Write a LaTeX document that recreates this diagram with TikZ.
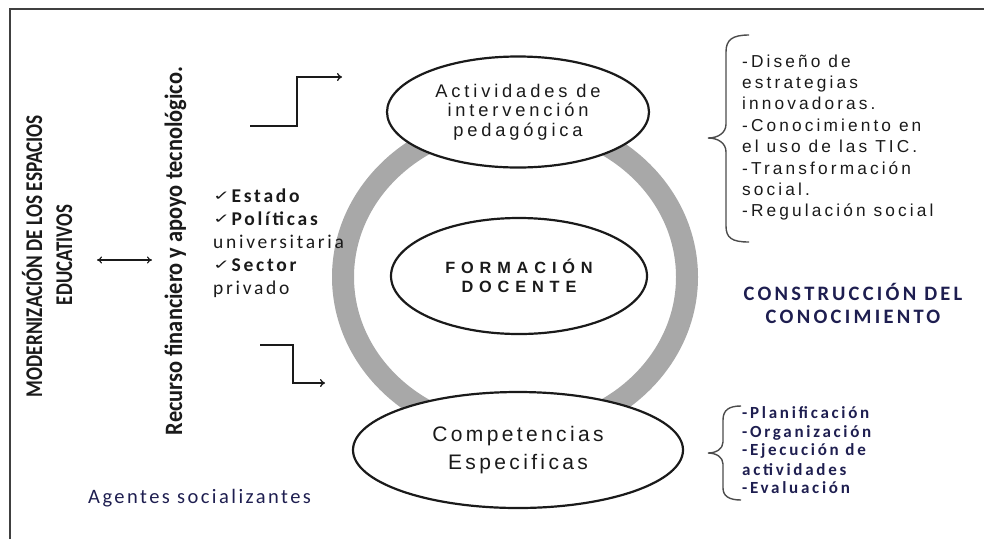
\documentclass[tikz,border=0pt]{standalone}
\usepackage{fontspec}
\usepackage{graphicx}
\usetikzlibrary{shapes.geometric,arrows.meta}
\newfontfamily\arialL[LetterSpace=18]{Liberation Sans}
\newfontfamily\arialE[LetterSpace=21]{Liberation Sans}
\newfontfamily\arialF[LetterSpace=36]{Liberation Sans}
\newfontfamily\arialC[LetterSpace=16]{Liberation Sans}
\newfontfamily\calCons[LetterSpace=16]{Carlito}
\newfontfamily\calChk[LetterSpace=14]{Carlito}
\newfontfamily\calAg[LetterSpace=12]{Carlito}
\newfontfamily\calPl[LetterSpace=16]{Carlito}
\newfontfamily\calRot{Carlito}
\newfontfamily\chkfont{DejaVu Sans}
\definecolor{ink}{HTML}{1A1A1A}
\definecolor{navy}{HTML}{1E1E50}
\definecolor{ringgray}{HTML}{A8A8A8}
\definecolor{framegray}{HTML}{404040}
\newcommand{\ck}{\raisebox{2pt}{\scalebox{1.35}[0.9]{\chkfont\fontsize{15}{15}\selectfont ✓}}\hspace{1.5pt}}
\begin{document}
\begin{tikzpicture}[x=1pt,y=-1pt,
  listA/.style={anchor=base west, inner sep=0, font=\arialL\fontsize{17.3}{20}\selectfont, text=ink},
  listB/.style={anchor=base west, inner sep=0, font=\calPl\bfseries\fontsize{17}{18}\selectfont, text=navy},
  chkline/.style={anchor=base west, inner sep=0, font=\calChk\fontsize{19.5}{20}\selectfont, text=ink},
  consline/.style={anchor=base, inner sep=0, font=\calCons\bfseries\fontsize{20.5}{22}\selectfont, text=navy},
  rotline/.style={anchor=base, inner sep=0, rotate=90, font=\calRot\bfseries, text=ink},
  oval/.style={ellipse, draw=ink, line width=2.2pt, fill=white, inner sep=0, align=center, text=ink},
  steparrow/.style={line width=1.3pt, draw=ink, -{To[length=5pt,width=8pt]}},
  bracestyle/.style={line width=1.4pt, draw=black!70},
]
\useasboundingbox (0,0) rectangle (984,539);
% frame
\draw[line width=1.8pt, framegray] (10,539) -- (10,9) -- (984,9);

% gray ring
\draw[line width=22pt, ringgray] (515,277) ellipse [x radius=172pt, y radius=156pt];

% ovals
\node[oval, minimum width=262pt, minimum height=111pt,
      font=\arialE\fontsize{18.3}{19.5}\selectfont] (act) at (518,112)
  {Actividades de\\intervención\\pedagógica};
\node[oval, minimum width=256pt, minimum height=116pt,
      font=\arialF\bfseries\fontsize{16.3}{19}\selectfont] (form) at (519,276)
  {FORMACIÓN\\DOCENTE};
\node[oval, minimum width=330pt, minimum height=116pt,
      font=\arialC\fontsize{21}{28}\selectfont] (comp) at (518,450)
  {Competencias\\Especificas};

% rotated texts on the left
\node[rotline, font=\calRot\bfseries\fontsize{24}{25}\selectfont] (mod) at (42,256)
  {\resizebox{282pt}{\height}{MODERNIZACIÓN DE LOS ESPACIOS}};
\node[rotline, font=\calRot\bfseries\fontsize{24}{25}\selectfont] (edu) at (72,255)
  {\resizebox{100pt}{\height}{EDUCATIVOS}};
\node[rotline, font=\calRot\bfseries\fontsize{25}{26}\selectfont] (rec) at (182,251)
  {\resizebox{368pt}{\height}{Recurso financiero y apoyo tecnológico.}};

% double arrow
\coordinate (da0) at (97,260);
\coordinate (da1) at (152,260);
\draw[line width=1.1pt, ink, {To[length=5pt,width=7pt]}-{To[length=5pt,width=7pt]}] (da0) -- (da1);

% checklist
\node[chkline] (c1) at (213,202) {\ck\bfseries Estado};
\node[chkline] (c2) at (213,225) {\ck\bfseries Políticas};
\node[chkline] (c3) at (213,248) {universitaria};
\node[chkline] (c4) at (213,271) {\ck\bfseries Sector};
\node[chkline] (c5) at (213,294) {privado};

% agentes
\node[anchor=base west, inner sep=0, font=\calAg\fontsize{20.5}{22}\selectfont, text=navy] (ag) at (88,503) {Agentes socializantes};

% step arrows
\coordinate (ta0) at (250,126);
\coordinate (tam) at (297,100);
\coordinate (ta1) at (342,77);
\draw[steparrow] (ta0) -| (tam) |- (ta1);
\coordinate (ba0) at (260,345);
\coordinate (bam) at (293,360);
\coordinate (ba1) at (325,383);
\draw[steparrow] (ba0) -| (bam) |- (ba1);

% top right brace and list
\coordinate (bt1) at (749,35);
\coordinate (btip) at (708,138);
\coordinate (bt2) at (749,242);
\draw[bracestyle] (bt1) .. controls (732,35) and (726,40) .. (726,52) -- (726,124)
  .. controls (726,133) and (718,138) .. (btip)
  .. controls (718,138) and (726,143) .. (726,152) -- (726,226)
  .. controls (726,238) and (732,242) .. (bt2);
\node[listA] (l1) at (742,67) {-Diseño de};
\node[listA] (l2) at (742,88.4) {estrategias};
\node[listA] (l3) at (742,109.8) {innovadoras.};
\node[listA] (l4) at (742,131.2) {-Conocimiento en};
\node[listA] (l5) at (742,152.6) {el uso de las TIC.};
\node[listA] (l6) at (742,174) {-Transformación};
\node[listA] (l7) at (742,195.4) {social.};
\node[listA] (l8) at (742,216.8) {-Regulación social};

% construccion
\node[consline] (cons1) at (853,300) {CONSTRUCCIÓN DEL};
\node[consline] (cons2) at (853,323) {CONOCIMIENTO};

% bottom right brace and list
\coordinate (bb1) at (741,406);
\coordinate (bbtip) at (708,453);
\coordinate (bb2) at (741,500);
\draw[bracestyle] (bb1) .. controls (729,406) and (723,410) .. (723,420) -- (723,442)
  .. controls (723,449) and (716,453) .. (bbtip)
  .. controls (716,453) and (723,457) .. (723,464) -- (723,488)
  .. controls (723,496) and (729,500) .. (bb2);
\node[listB] (p1) at (742,418) {-Planificación};
\node[listB] (p2) at (742,437) {-Organización};
\node[listB] (p3) at (742,455.5) {-Ejecución de};
\node[listB] (p4) at (742,475) {actividades};
\node[listB] (p5) at (742,493) {-Evaluación};
\end{tikzpicture}
\end{document}
